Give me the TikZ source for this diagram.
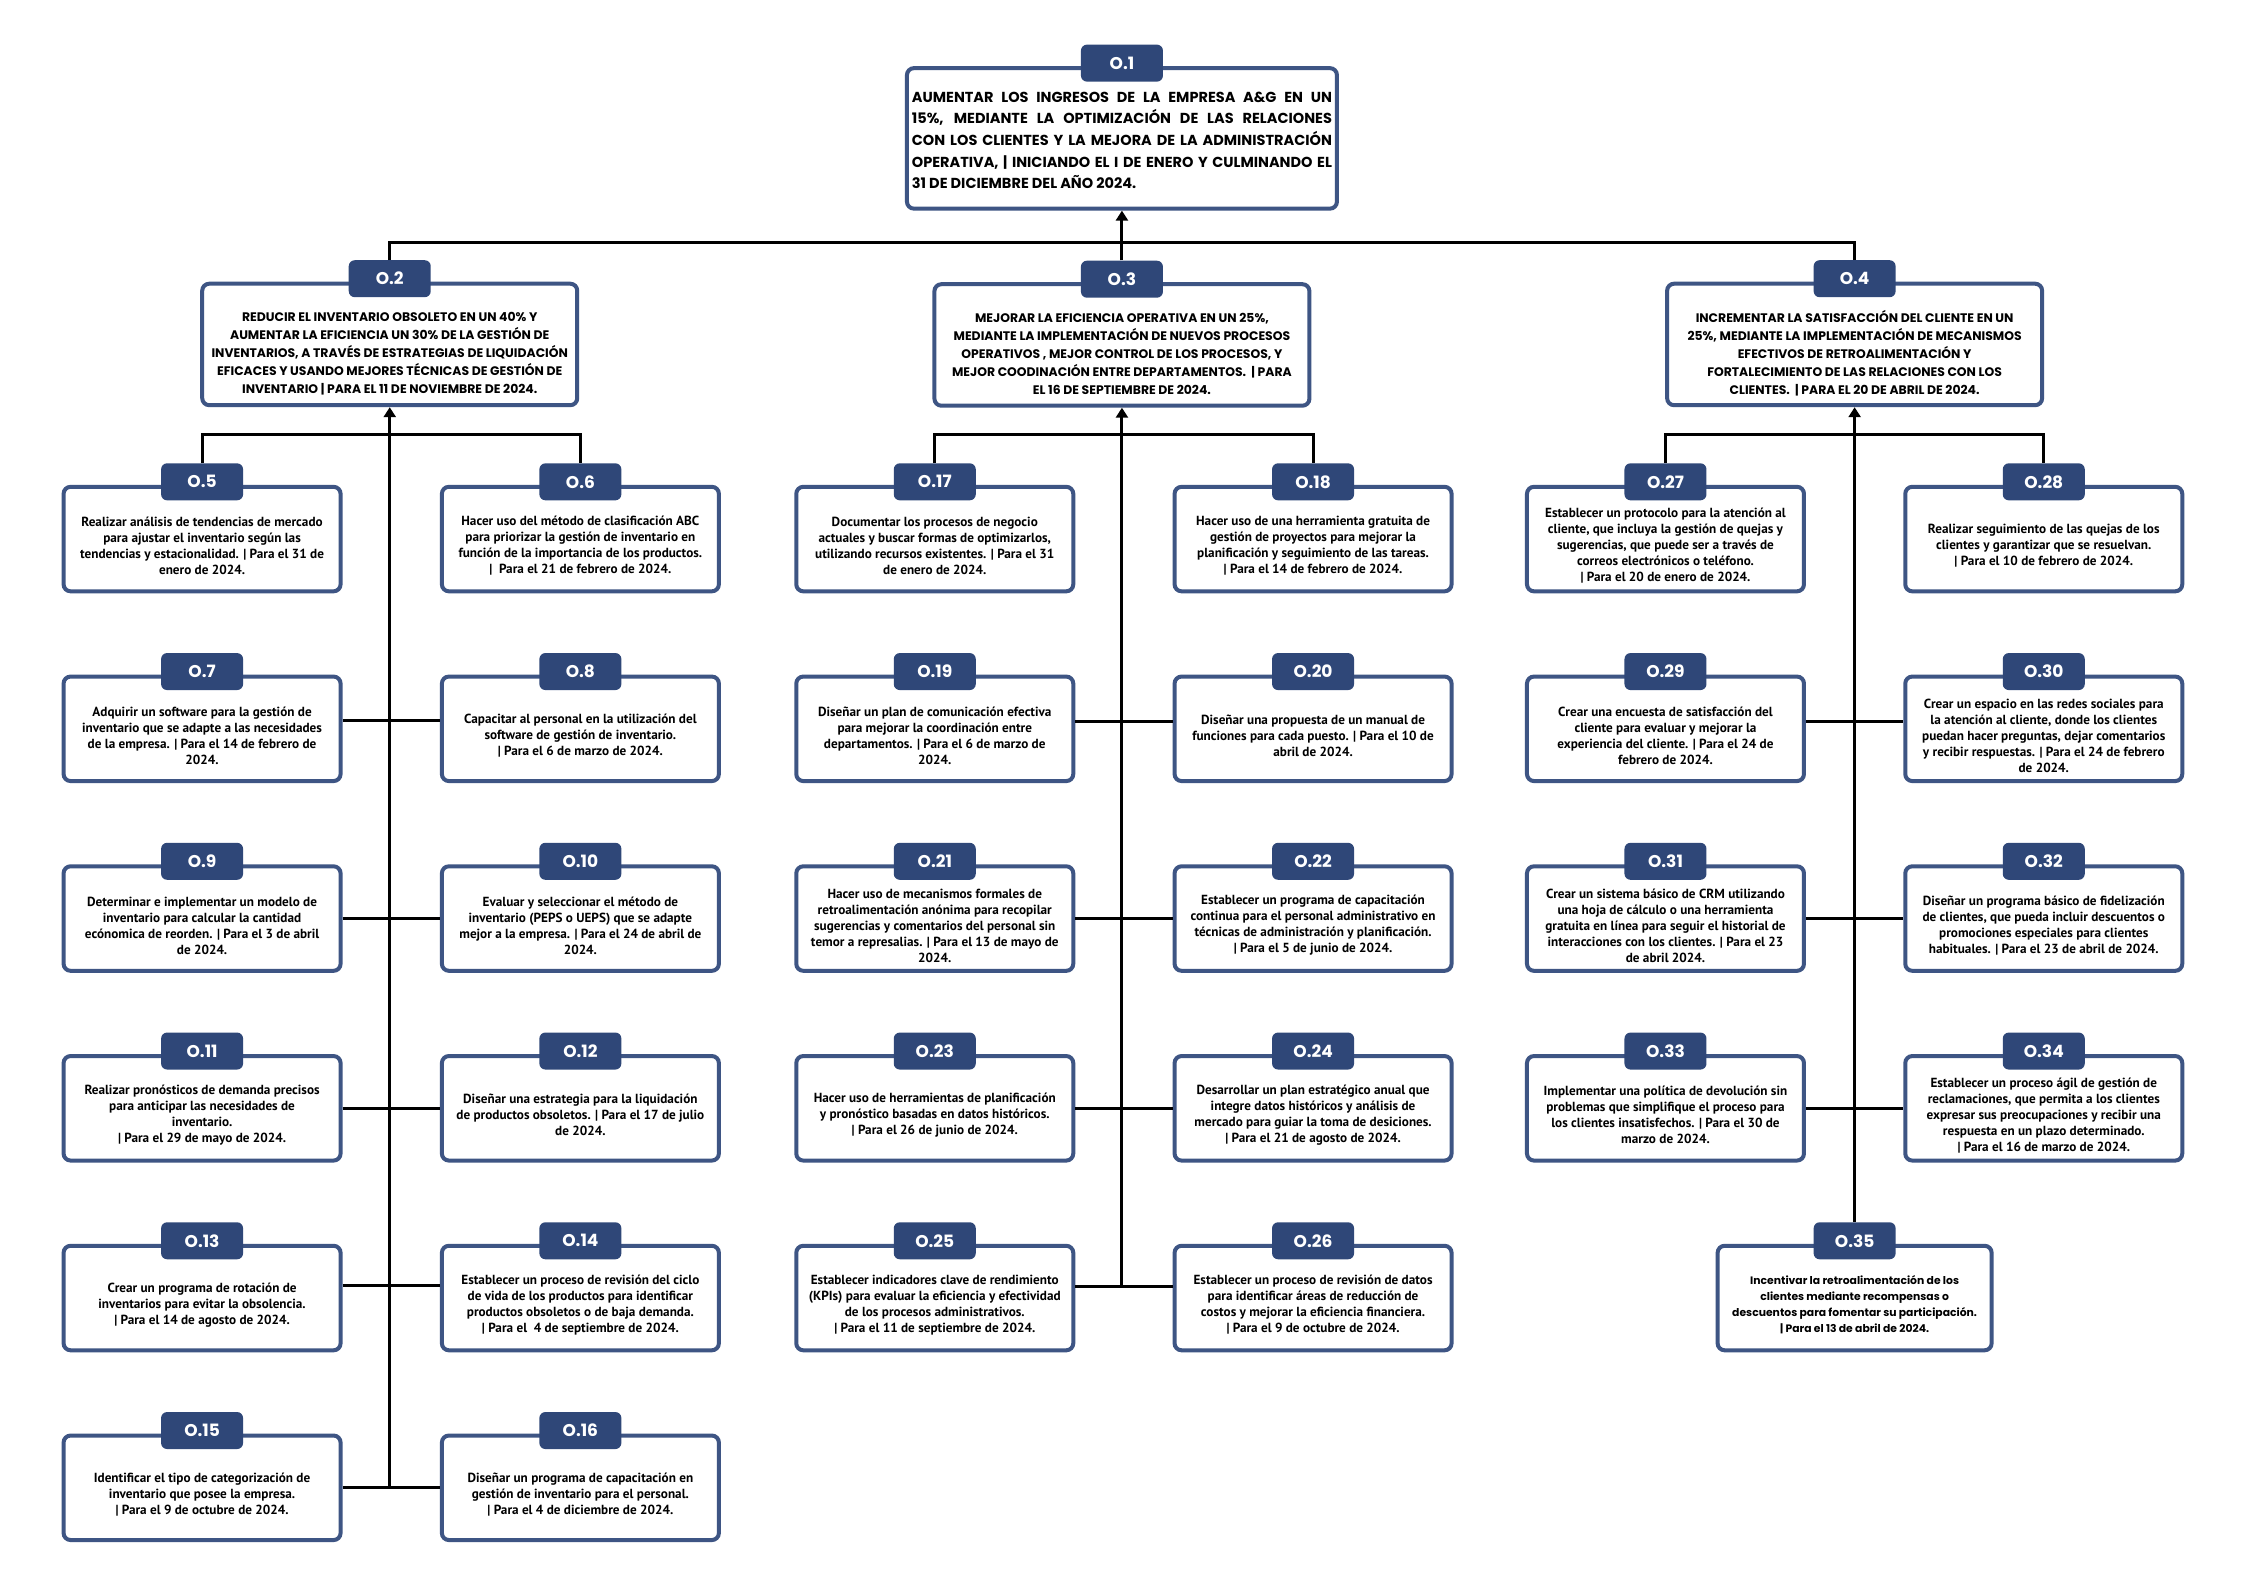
\documentclass[tikz,border=0pt]{standalone}
\usepackage{fontspec}
\setmainfont{PT Sans}
\newfontfamily\popp{Poppins}
\usetikzlibrary{arrows.meta}
\definecolor{labc}{HTML}{2F4778}
\definecolor{bordc}{HTML}{3E5584}
\tikzset{
 obox/.style={draw=bordc, line width=4pt, rounded corners=7pt, fill=white, minimum width=277pt, minimum height=104.5pt, inner sep=0pt},
 bigbox/.style={obox, minimum width=375pt, minimum height=121.5pt},
 topbox/.style={obox, minimum width=430pt, minimum height=140.5pt},
 olab/.style={fill=labc, rounded corners=6pt, minimum width=82pt, minimum height=37pt, inner sep=0pt, text=white, font=\popp\bfseries\fontsize{17}{17}\selectfont},
 stxt/.style={align=center, inner sep=0pt, font=\bfseries\fontsize{13.2}{16}\selectfont},
 ptxt/.style={align=center, inner sep=0pt, font=\popp\bfseries\fontsize{10.8}{16}\selectfont},
 htxt/.style={align=center, inner sep=0pt, font=\popp\bfseries\fontsize{12.4}{18}\selectfont},
 ttxt/.style={align=justify, text width=420pt, inner sep=0pt, font=\popp\bfseries\fontsize{14.5}{21.7}\selectfont},
 conn/.style={line width=3pt, black},
 arr/.style={conn, -{Triangle[width=12pt,length=10pt]}},
}
\newcommand{\smallobj}[3]{%
 \node[obox] (b#1) at (#2) {};
 \node[olab] (l#1) at ([yshift=3pt]b#1.north) {O.#1};
 \node[stxt] (t#1) at ([yshift=-7pt]b#1.center) {#3};
}
\newcommand{\bigobj}[3]{%
 \node[bigbox] (b#1) at (#2) {};
 \node[olab] (l#1) at ([yshift=3pt]b#1.north) {O.#1};
 \node[htxt] (t#1) at ([yshift=-9pt]b#1.center) {#3};
}
\begin{document}
\begin{tikzpicture}[x=0.9955pt,y=-0.9955pt]
\fill[white] (0,0) rectangle (2255.15,1594.17);
\useasboundingbox (0,0) rectangle (2255.15,1594.17);

% top
\node[topbox] (b1) at (1127,139) {};
\node[olab] (l1) at ([yshift=3pt]b1.north) {O.1};
\node[ttxt] (t1) at ([yshift=-2pt]b1.center) {AUMENTAR LOS INGRESOS DE LA EMPRESA A\&G EN UN\linebreak
15\%, MEDIANTE LA OPTIMIZACIÓN DE LAS RELACIONES\linebreak
CON LOS CLIENTES Y LA MEJORA DE LA ADMINISTRACIÓN\linebreak
OPERATIVA, | INICIANDO EL I DE ENERO Y CULMINANDO EL\linebreak
31 DE DICIEMBRE DEL AÑO 2024.};

\bigobj{2}{391.5,346}{REDUCIR EL INVENTARIO OBSOLETO EN UN 40\% Y\\
AUMENTAR LA EFICIENCIA UN 30\% DE LA GESTIÓN DE\\
INVENTARIOS, A TRAVÉS DE ESTRATEGIAS DE LIQUIDACIÓN\\
EFICACES Y USANDO MEJORES TÉCNICAS DE GESTIÓN DE\\
INVENTARIO | PARA EL 11 DE NOVIEMBRE DE 2024.}
\bigobj{3}{1127,346.5}{MEJORAR LA EFICIENCIA OPERATIVA EN UN 25\%,\\
MEDIANTE LA IMPLEMENTACIÓN DE NUEVOS PROCESOS\\
OPERATIVOS , MEJOR CONTROL DE LOS PROCESOS, Y\\
MEJOR COODINACIÓN ENTRE DEPARTAMENTOS. \ | PARA\\
EL 16 DE SEPTIEMBRE DE 2024.}
\bigobj{4}{1863,346}{INCREMENTAR LA SATISFACCIÓN DEL CLIENTE EN UN\\
25\%, MEDIANTE LA IMPLEMENTACIÓN DE MECANISMOS\\
EFECTIVOS DE RETROALIMENTACIÓN Y\\
FORTALECIMIENTO DE LAS RELACIONES CON LOS\\
CLIENTES. \ | PARA EL 20 DE ABRIL DE 2024.}

% left group
\smallobj{5}{203,541.5}{Realizar análisis de tendencias de mercado\\para ajustar el inventario según las\\tendencias y estacionalidad. | Para el 31 de\\enero de 2024.}
\smallobj{6}{583,541.5}{Hacer uso del método de clasificación ABC\\para priorizar la gestión de inventario en\\función de la importancia de los productos.\\| \ Para el 21 de febrero de 2024.}
\smallobj{7}{203,732.1}{Adquirir un software para la gestión de\\inventario que se adapte a las necesidades\\de la empresa. | Para el 14 de febrero de\\2024.}
\smallobj{8}{583,732.1}{Capacitar al personal en la utilización del\\software de gestión de inventario.\\| Para el 6 de marzo de 2024.}
\smallobj{9}{203,922.7}{Determinar e implementar un modelo de\\inventario para calcular la cantidad\\ecónomica de reorden. | Para el 3 de abril\\de 2024.}
\smallobj{10}{583,922.7}{Evaluar y seleccionar el método de\\inventario (PEPS o UEPS) que se adapte\\mejor a la empresa. | Para el 24 de abril de\\2024.}
\smallobj{11}{203,1113.3}{Realizar pronósticos de demanda precisos\\para anticipar las necesidades de\\inventario.\\| Para el 29 de mayo de 2024.}
\smallobj{12}{583,1113.3}{Diseñar una estrategia para la liquidación\\de productos obsoletos. | Para el 17 de julio\\de 2024.}
\smallobj{13}{203,1303.9}{Crear un programa de rotación de\\inventarios para evitar la obsolencia.\\| Para el 14 de agosto de 2024.}
\smallobj{14}{583,1303.9}{Establecer un proceso de revisión del ciclo\\de vida de los productos para identificar\\productos obsoletos o de baja demanda.\\| Para el \ 4 de septiembre de 2024.}
\smallobj{15}{203,1494.5}{Identificar el tipo de categorización de\\inventario que posee la empresa.\\| Para el 9 de octubre de 2024.}
\smallobj{16}{583,1494.5}{Diseñar un programa de capacitación en\\gestión de inventario para el personal.\\| Para el 4 de diciembre de 2024.}

% middle group
\smallobj{17}{939,541.5}{Documentar los procesos de negocio\\actuales y buscar formas de optimizarlos,\\utilizando recursos existentes. | Para el 31\\de enero de 2024.}
\smallobj{18}{1319,541.5}{Hacer uso de una herramienta gratuita de\\gestión de proyectos para mejorar la\\planificación y seguimiento de las tareas.\\| Para el 14 de febrero de 2024.}
\smallobj{19}{939,732.1}{Diseñar un plan de comunicación efectiva\\para mejorar la coordinación entre\\departamentos. | Para el 6 de marzo de\\2024.}
\smallobj{20}{1319,732.1}{Diseñar una propuesta de un manual de\\funciones para cada puesto. | Para el 10 de\\abril de 2024.}
\smallobj{21}{939,922.7}{Hacer uso de mecanismos formales de\\retroalimentación anónima para recopilar\\sugerencias y comentarios del personal sin\\temor a represalias. | Para el 13 de mayo de\\2024.}
\smallobj{22}{1319,922.7}{Establecer un programa de capacitación\\continua para el personal administrativo en\\técnicas de administración y planificación.\\| Para el 5 de junio de 2024.}
\smallobj{23}{939,1113.3}{Hacer uso de herramientas de planificación\\y pronóstico basadas en datos históricos.\\| Para el 26 de junio de 2024.}
\smallobj{24}{1319,1113.3}{Desarrollar un plan estratégico anual que\\integre datos históricos y análisis de\\mercado para guiar la toma de desiciones.\\| Para el 21 de agosto de 2024.}
\smallobj{25}{939,1303.9}{Establecer indicadores clave de rendimiento\\(KPIs) para evaluar la eficiencia y efectividad\\de los procesos administrativos.\\| Para el 11 de septiembre de 2024.}
\smallobj{26}{1319,1303.9}{Establecer un proceso de revisión de datos\\para identificar áreas de reducción de\\costos y mejorar la eficiencia financiera.\\| Para el 9 de octubre de 2024.}

% right group
\smallobj{27}{1673,541.5}{Establecer un protocolo para la atención al\\cliente, que incluya la gestión de quejas y\\sugerencias, que puede ser a través de\\correos electrónicos o teléfono.\\| Para el 20 de enero de 2024.}
\smallobj{28}{2053,541.5}{Realizar seguimiento de las quejas de los\\clientes y garantizar que se resuelvan.\\| Para el 10 de febrero de 2024.}
\smallobj{29}{1673,732.1}{Crear una encuesta de satisfacción del\\cliente para evaluar y mejorar la\\experiencia del cliente. | Para el 24 de\\febrero de 2024.}
\smallobj{30}{2053,732.1}{Crear un espacio en las redes sociales para\\la atención al cliente, donde los clientes\\puedan hacer preguntas, dejar comentarios\\y recibir respuestas. | Para el 24 de febrero\\de 2024.}
\smallobj{31}{1673,922.7}{Crear un sistema básico de CRM utilizando\\una hoja de cálculo o una herramienta\\gratuita en línea para seguir el historial de\\interacciones con los clientes. | Para el 23\\de abril 2024.}
\smallobj{32}{2053,922.7}{Diseñar un programa básico de fidelización\\de clientes, que pueda incluir descuentos o\\promociones especiales para clientes\\habituales. | Para el 23 de abril de 2024.}
\smallobj{33}{1673,1113.3}{Implementar una política de devolución sin\\problemas que simplifique el proceso para\\los clientes insatisfechos. | Para el 30 de\\marzo de 2024.}
\smallobj{34}{2053,1113.3}{Establecer un proceso ágil de gestión de\\reclamaciones, que permita a los clientes\\expresar sus preocupaciones y recibir una\\respuesta en un plazo determinado.\\| Para el 16 de marzo de 2024.}
\node[obox, minimum width=274pt] (b35) at (1863,1303.9) {};
\node[olab] (l35) at ([yshift=3pt]b35.north) {O.35};
\node[ptxt] (t35) at ([yshift=-7pt]b35.center) {Incentivar la retroalimentación de los\\clientes mediante recompensas o\\descuentos para fomentar su participación.\\| Para el 13 de abril de 2024.};

% connectors level 1-2
\coordinate (bar1) at (1127,244);
\coordinate (bar2) at (391.5,436);
\draw[conn] (l2.north) -- (l2.north |- bar1) -- (l4.north |- bar1) -- (l4.north);
\draw[arr] (l3.north) -- (b1.south);

% left group connectors
\draw[conn] (l5.north) -- (l5.north |- bar2) -- (l6.north |- bar2) -- (l6.north);
\draw[conn] ([yshift=8pt]b7.east) -- ([yshift=8pt]b8.west);
\draw[conn] (b9.east) -- (b10.west);
\draw[conn] (b11.east) -- (b12.west);
\draw[conn] ([yshift=13pt]b13.east) -- ([yshift=13pt]b14.west);
\draw[conn] (b15.east) -- (b16.west);
\draw[arr] (b2.south |- b15.east) -- (b2.south);

% middle group connectors
\draw[conn] (l17.north) -- (l17.north |- bar2) -- (l18.north |- bar2) -- (l18.north);
\draw[conn] ([yshift=7pt]b19.east) -- ([yshift=7pt]b20.west);
\draw[conn] (b21.east) -- (b22.west);
\draw[conn] (b23.east) -- (b24.west);
\coordinate (m5) at ([yshift=12pt]b25.east);
\draw[conn] (m5) -- ([yshift=12pt]b26.west);
\draw[arr] (b3.south |- m5) -- (b3.south);

% right group connectors
\draw[conn] (l27.north) -- (l27.north |- bar2) -- (l28.north |- bar2) -- (l28.north);
\draw[conn] ([yshift=7pt]b29.east) -- ([yshift=7pt]b30.west);
\draw[conn] (b31.east) -- (b32.west);
\draw[conn] (b33.east) -- (b34.west);
\draw[arr] (l35.north) -- (b4.south);
\end{tikzpicture}
\end{document}
